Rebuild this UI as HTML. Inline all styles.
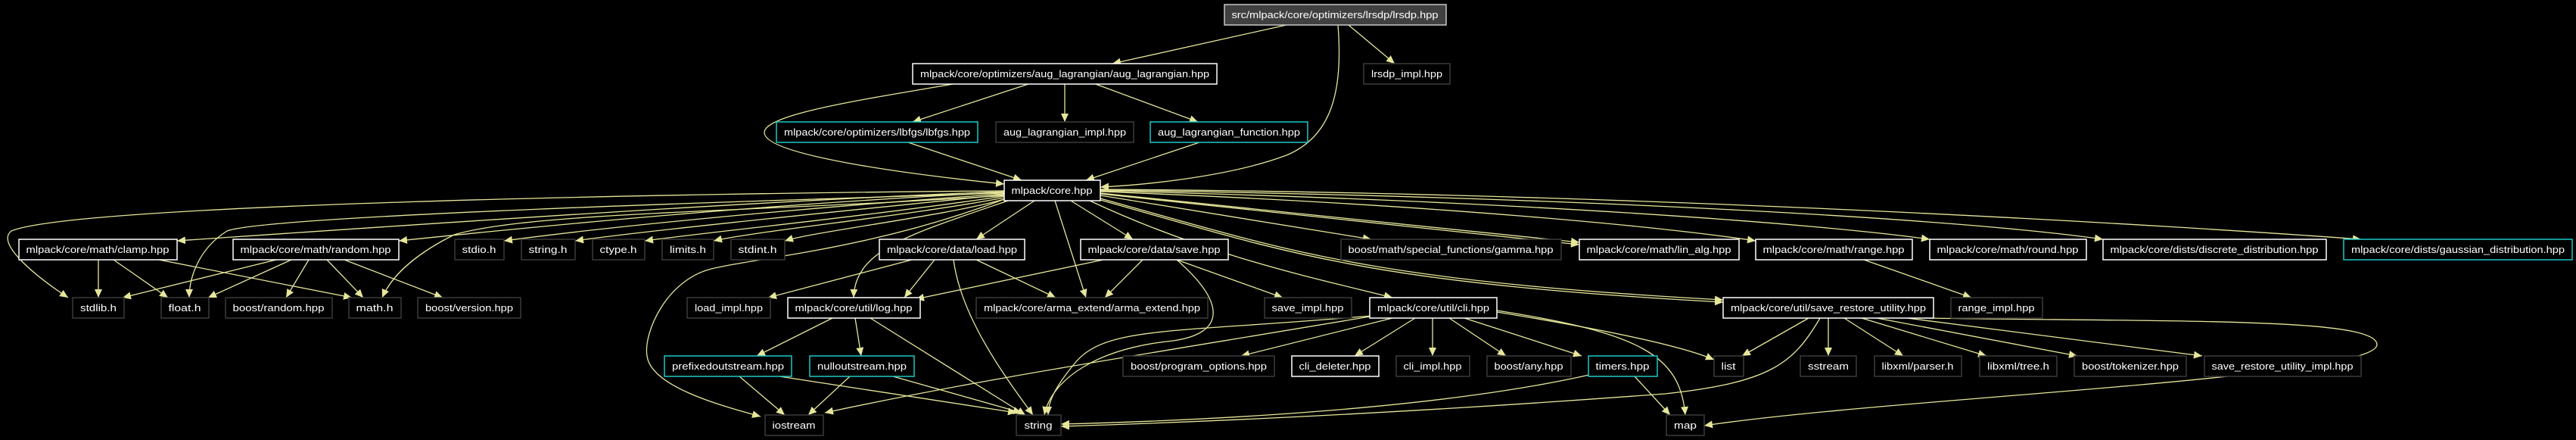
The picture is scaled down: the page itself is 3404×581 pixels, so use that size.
<!DOCTYPE html>
<html><head><meta charset="utf-8"><style>
html,body{margin:0;padding:0;background:#000;}
svg{display:block}
text{font-family:"Liberation Sans",sans-serif;font-size:13px;fill:#fff;text-anchor:middle}
.e{fill:none;stroke:#e6e69a;stroke-width:1.3}
.w{fill:#000;stroke:#fff;stroke-width:1.5}
.g{fill:#000;stroke:#3a3a3a;stroke-width:1.5}
.c{fill:#000;stroke:#1cc8c8;stroke-width:1.5}
.t{fill:#404040;stroke:#c8c8c8;stroke-width:1.5}
</style></head><body>
<svg width="3404" height="581" viewBox="0 0 3404 581" xmlns="http://www.w3.org/2000/svg">
<defs><marker id="a" markerUnits="userSpaceOnUse" markerWidth="12" markerHeight="10" refX="11" refY="5" orient="auto"><path d="M0,0 L11,5 L0,10 z" fill="#e6e69a"/></marker></defs>
<g class="edges" marker-end="url(#a)">
<path class="e" marker-end="url(#a)" d="M1700,33 L1470,84"/>
<path class="e" marker-end="url(#a)" d="M1782,33 L1843,84"/>
<path class="e" marker-end="url(#a)" d="M1768,33 C1775,120 1760,180 1700,205 C1620,235 1500,245 1454,247"/>
<path class="e" marker-end="url(#a)" d="M1265,110 C1150,130 1010,150 1010,175 C1010,205 1200,230 1327,243"/>
<path class="e" marker-end="url(#a)" d="M1362,110 L1206,161"/>
<path class="e" marker-end="url(#a)" d="M1407,110 L1407,161"/>
<path class="e" marker-end="url(#a)" d="M1445,110 L1583,161"/>
<path class="e" marker-end="url(#a)" d="M1200,188 L1350,238"/>
<path class="e" marker-end="url(#a)" d="M1585,188 L1435,238"/>
<path class="e" marker-end="url(#a)" d="M1327,253 C1000,265 500,300 234,318"/>
<path class="e" marker-end="url(#a)" d="M1327,254 C1000,270 700,300 527,318"/>
<path class="e" marker-end="url(#a)" d="M1327,256 C1050,275 800,300 666,318"/>
<path class="e" marker-end="url(#a)" d="M1327,257 C1100,280 850,305 760,318"/>
<path class="e" marker-end="url(#a)" d="M1327,259 C1150,285 950,305 852,318"/>
<path class="e" marker-end="url(#a)" d="M1327,261 C1200,285 1000,305 943,318"/>
<path class="e" marker-end="url(#a)" d="M1327,263 C1250,285 1080,305 1037,318"/>
<path class="e" marker-end="url(#a)" d="M1327,252 C900,255 100,270 15,305 C-5,320 40,360 90,393"/>
<path class="e" marker-end="url(#a)" d="M1327,255 C1000,265 350,285 300,305 C260,330 250,370 250,393"/>
<path class="e" marker-end="url(#a)" d="M1330,258 C1000,280 700,280 600,310 C540,340 515,370 505,393"/>
<path class="e" marker-end="url(#a)" d="M1367,265 L1290,316"/>
<path class="e" marker-end="url(#a)" d="M1394,265 L1435,393"/>
<path class="e" marker-end="url(#a)" d="M1415,265 L1497,316"/>
<path class="e" marker-end="url(#a)" d="M1335,264 C1200,310 1130,330 1128,393"/>
<path class="e" marker-end="url(#a)" d="M1330,262 C1150,330 1000,340 940,355 C880,370 850,440 855,470 C860,510 950,535 1005,550"/>
<path class="e" marker-end="url(#a)" d="M1454,258 L1812,316"/>
<path class="e" marker-end="url(#a)" d="M1454,255 C1800,290 2000,310 2087,320"/>
<path class="e" marker-end="url(#a)" d="M1454,256 C1800,292 2000,313 2087,323"/>
<path class="e" marker-end="url(#a)" d="M1454,253 C1900,270 2200,300 2320,318"/>
<path class="e" marker-end="url(#a)" d="M1454,252 C2000,265 2400,295 2550,316"/>
<path class="e" marker-end="url(#a)" d="M1454,251 C2100,260 2600,290 2779,316"/>
<path class="e" marker-end="url(#a)" d="M1454,250 C2200,255 2900,300 3120,316"/>
<path class="e" marker-end="url(#a)" d="M1440,265 C1600,340 1750,370 1840,393"/>
<path class="e" marker-end="url(#a)" d="M1454,262 C1700,330 1800,370 2277,396"/>
<path class="e" marker-end="url(#a)" d="M1454,264 C1700,333 1800,373 2277,399"/>
<path class="e" marker-end="url(#a)" d="M130,343 L130,393"/>
<path class="e" marker-end="url(#a)" d="M150,343 L222,393"/>
<path class="e" marker-end="url(#a)" d="M210,343 L465,393"/>
<path class="e" marker-end="url(#a)" d="M365,343 L162,393"/>
<path class="e" marker-end="url(#a)" d="M385,343 L275,393"/>
<path class="e" marker-end="url(#a)" d="M408,343 L378,393"/>
<path class="e" marker-end="url(#a)" d="M432,343 L480,393"/>
<path class="e" marker-end="url(#a)" d="M455,343 L585,393"/>
<path class="e" marker-end="url(#a)" d="M1205,343 L1015,393"/>
<path class="e" marker-end="url(#a)" d="M1235,343 L1195,393"/>
<path class="e" marker-end="url(#a)" d="M1290,343 L1395,393"/>
<path class="e" marker-end="url(#a)" d="M1260,343 C1270,420 1330,500 1365,548"/>
<path class="e" marker-end="url(#a)" d="M1458,343 L1210,395"/>
<path class="e" marker-end="url(#a)" d="M1510,343 L1460,393"/>
<path class="e" marker-end="url(#a)" d="M1555,343 L1695,393"/>
<path class="e" marker-end="url(#a)" d="M1555,343 C1620,400 1620,440 1550,450 C1450,460 1390,500 1380,548"/>
<path class="e" marker-end="url(#a)" d="M1100,420 L1000,470"/>
<path class="e" marker-end="url(#a)" d="M1130,420 L1138,470"/>
<path class="e" marker-end="url(#a)" d="M1150,420 L1355,548"/>
<path class="e" marker-end="url(#a)" d="M977,497 L1037,548"/>
<path class="e" marker-end="url(#a)" d="M1030,497 L1343,545"/>
<path class="e" marker-end="url(#a)" d="M1123,497 L1068,548"/>
<path class="e" marker-end="url(#a)" d="M1180,497 L1350,545"/>
<path class="e" marker-end="url(#a)" d="M1812,417 C1550,440 1460,430 1420,480 C1395,510 1385,530 1385,548"/>
<path class="e" marker-end="url(#a)" d="M1810,418 C1500,470 1300,500 1090,545"/>
<path class="e" marker-end="url(#a)" d="M1840,420 L1640,470"/>
<path class="e" marker-end="url(#a)" d="M1870,420 L1790,470"/>
<path class="e" marker-end="url(#a)" d="M1893,420 L1893,470"/>
<path class="e" marker-end="url(#a)" d="M1915,420 L1990,470"/>
<path class="e" marker-end="url(#a)" d="M1935,420 L2090,470"/>
<path class="e" marker-end="url(#a)" d="M1978,412 C2150,440 2230,460 2265,475"/>
<path class="e" marker-end="url(#a)" d="M1978,410 C2170,440 2220,470 2227,548"/>
<path class="e" marker-end="url(#a)" d="M2100,495 C1900,540 1600,555 1402,560"/>
<path class="e" marker-end="url(#a)" d="M2160,497 L2207,548"/>
<path class="e" marker-end="url(#a)" d="M2390,420 L2302,470"/>
<path class="e" marker-end="url(#a)" d="M2405,420 C2370,480 2340,505 2200,520 C1800,550 1500,560 1402,563"/>
<path class="e" marker-end="url(#a)" d="M2416,420 L2416,470"/>
<path class="e" marker-end="url(#a)" d="M2437,420 L2515,470"/>
<path class="e" marker-end="url(#a)" d="M2460,420 L2625,470"/>
<path class="e" marker-end="url(#a)" d="M2480,420 L2745,470"/>
<path class="e" marker-end="url(#a)" d="M2520,420 L2910,470"/>
<path class="e" marker-end="url(#a)" d="M2540,420 C2900,425 3140,420 3141,455 C3141,500 2500,525 2252,562"/>
<path class="e" marker-end="url(#a)" d="M2463,343 L2605,393"/>
</g>
<g>
<rect class="t" x="1618" y="6" width="293" height="27"/><text x="1764" y="24" textLength="273" lengthAdjust="spacingAndGlyphs">src/mlpack/core/optimizers/lrsdp/lrsdp.hpp</text>
<rect class="w" x="1206" y="84" width="402" height="27"/><text x="1407" y="102" textLength="382" lengthAdjust="spacingAndGlyphs">mlpack/core/optimizers/aug_lagrangian/aug_lagrangian.hpp</text>
<rect class="g" x="1802" y="84" width="114" height="27"/><text x="1859" y="102" textLength="94" lengthAdjust="spacingAndGlyphs">lrsdp_impl.hpp</text>
<rect class="c" x="1026" y="161" width="266" height="27"/><text x="1159" y="179" textLength="246" lengthAdjust="spacingAndGlyphs">mlpack/core/optimizers/lbfgs/lbfgs.hpp</text>
<rect class="g" x="1316" y="161" width="182" height="27"/><text x="1407" y="179" textLength="162" lengthAdjust="spacingAndGlyphs">aug_lagrangian_impl.hpp</text>
<rect class="c" x="1520" y="161" width="208" height="27"/><text x="1624" y="179" textLength="188" lengthAdjust="spacingAndGlyphs">aug_lagrangian_function.hpp</text>
<rect class="w" x="1327" y="238" width="127" height="27"/><text x="1390" y="256" textLength="107" lengthAdjust="spacingAndGlyphs">mlpack/core.hpp</text>

<rect class="w" x="25" y="316" width="209" height="27"/><text x="129" y="334" textLength="189" lengthAdjust="spacingAndGlyphs">mlpack/core/math/clamp.hpp</text>
<rect class="w" x="308" y="316" width="219" height="27"/><text x="417" y="334" textLength="199" lengthAdjust="spacingAndGlyphs">mlpack/core/math/random.hpp</text>
<rect class="g" x="601" y="316" width="65" height="27"/><text x="633" y="334" textLength="45" lengthAdjust="spacingAndGlyphs">stdio.h</text>
<rect class="g" x="689" y="316" width="71" height="27"/><text x="724" y="334" textLength="51" lengthAdjust="spacingAndGlyphs">string.h</text>
<rect class="g" x="783" y="316" width="69" height="27"/><text x="817" y="334" textLength="49" lengthAdjust="spacingAndGlyphs">ctype.h</text>
<rect class="g" x="875" y="316" width="68" height="27"/><text x="909" y="334" textLength="48" lengthAdjust="spacingAndGlyphs">limits.h</text>
<rect class="g" x="966" y="316" width="71" height="27"/><text x="1001" y="334" textLength="51" lengthAdjust="spacingAndGlyphs">stdint.h</text>
<rect class="w" x="1162" y="316" width="192" height="27"/><text x="1258" y="334" textLength="172" lengthAdjust="spacingAndGlyphs">mlpack/core/data/load.hpp</text>
<rect class="w" x="1428" y="316" width="195" height="27"/><text x="1525" y="334" textLength="175" lengthAdjust="spacingAndGlyphs">mlpack/core/data/save.hpp</text>
<rect class="g" x="1772" y="316" width="291" height="27"/><text x="1917" y="334" textLength="271" lengthAdjust="spacingAndGlyphs">boost/math/special_functions/gamma.hpp</text>
<rect class="w" x="2087" y="316" width="211" height="27"/><text x="2192" y="334" textLength="191" lengthAdjust="spacingAndGlyphs">mlpack/core/math/lin_alg.hpp</text>
<rect class="w" x="2320" y="316" width="207" height="27"/><text x="2423" y="334" textLength="187" lengthAdjust="spacingAndGlyphs">mlpack/core/math/range.hpp</text>
<rect class="w" x="2550" y="316" width="207" height="27"/><text x="2653" y="334" textLength="187" lengthAdjust="spacingAndGlyphs">mlpack/core/math/round.hpp</text>
<rect class="w" x="2779" y="316" width="295" height="27"/><text x="2926" y="334" textLength="275" lengthAdjust="spacingAndGlyphs">mlpack/core/dists/discrete_distribution.hpp</text>
<rect class="c" x="3097" y="316" width="302" height="27"/><text x="3248" y="334" textLength="282" lengthAdjust="spacingAndGlyphs">mlpack/core/dists/gaussian_distribution.hpp</text>

<rect class="g" x="96" y="393" width="68" height="27"/><text x="130" y="411" textLength="48" lengthAdjust="spacingAndGlyphs">stdlib.h</text>
<rect class="g" x="213" y="393" width="63" height="27"/><text x="244" y="411" textLength="43" lengthAdjust="spacingAndGlyphs">float.h</text>
<rect class="g" x="298" y="393" width="141" height="27"/><text x="368" y="411" textLength="121" lengthAdjust="spacingAndGlyphs">boost/random.hpp</text>
<rect class="g" x="461" y="393" width="69" height="27"/><text x="495" y="411" textLength="49" lengthAdjust="spacingAndGlyphs">math.h</text>
<rect class="g" x="552" y="393" width="136" height="27"/><text x="620" y="411" textLength="116" lengthAdjust="spacingAndGlyphs">boost/version.hpp</text>
<rect class="g" x="908" y="393" width="110" height="27"/><text x="963" y="411" textLength="90" lengthAdjust="spacingAndGlyphs">load_impl.hpp</text>
<rect class="w" x="1041" y="393" width="175" height="27"/><text x="1128" y="411" textLength="155" lengthAdjust="spacingAndGlyphs">mlpack/core/util/log.hpp</text>
<rect class="g" x="1290" y="393" width="306" height="27"/><text x="1443" y="411" textLength="286" lengthAdjust="spacingAndGlyphs">mlpack/core/arma_extend/arma_extend.hpp</text>
<rect class="g" x="1671" y="393" width="115" height="27"/><text x="1728" y="411" textLength="95" lengthAdjust="spacingAndGlyphs">save_impl.hpp</text>
<rect class="w" x="1810" y="393" width="168" height="27"/><text x="1894" y="411" textLength="148" lengthAdjust="spacingAndGlyphs">mlpack/core/util/cli.hpp</text>
<rect class="w" x="2277" y="393" width="278" height="27"/><text x="2416" y="411" textLength="258" lengthAdjust="spacingAndGlyphs">mlpack/core/util/save_restore_utility.hpp</text>
<rect class="g" x="2578" y="393" width="121" height="27"/><text x="2638" y="411" textLength="101" lengthAdjust="spacingAndGlyphs">range_impl.hpp</text>

<rect class="c" x="878" y="470" width="168" height="27"/><text x="962" y="488" textLength="148" lengthAdjust="spacingAndGlyphs">prefixedoutstream.hpp</text>
<rect class="c" x="1070" y="470" width="138" height="27"/><text x="1139" y="488" textLength="118" lengthAdjust="spacingAndGlyphs">nulloutstream.hpp</text>
<rect class="g" x="1484" y="470" width="200" height="27"/><text x="1584" y="488" textLength="180" lengthAdjust="spacingAndGlyphs">boost/program_options.hpp</text>
<rect class="w" x="1707" y="470" width="115" height="27"/><text x="1764" y="488" textLength="95" lengthAdjust="spacingAndGlyphs">cli_deleter.hpp</text>
<rect class="g" x="1845" y="470" width="97" height="27"/><text x="1893" y="488" textLength="77" lengthAdjust="spacingAndGlyphs">cli_impl.hpp</text>
<rect class="g" x="1965" y="470" width="111" height="27"/><text x="2020" y="488" textLength="91" lengthAdjust="spacingAndGlyphs">boost/any.hpp</text>
<rect class="c" x="2099" y="470" width="91" height="27"/><text x="2144" y="488" textLength="71" lengthAdjust="spacingAndGlyphs">timers.hpp</text>
<rect class="g" x="2265" y="470" width="39" height="27"/><text x="2284" y="488" textLength="19" lengthAdjust="spacingAndGlyphs">list</text>
<rect class="g" x="2379" y="470" width="74" height="27"/><text x="2416" y="488" textLength="54" lengthAdjust="spacingAndGlyphs">sstream</text>
<rect class="g" x="2477" y="470" width="115" height="27"/><text x="2534" y="488" textLength="95" lengthAdjust="spacingAndGlyphs">libxml/parser.h</text>
<rect class="g" x="2616" y="470" width="102" height="27"/><text x="2667" y="488" textLength="82" lengthAdjust="spacingAndGlyphs">libxml/tree.h</text>
<rect class="g" x="2741" y="470" width="148" height="27"/><text x="2815" y="488" textLength="128" lengthAdjust="spacingAndGlyphs">boost/tokenizer.hpp</text>
<rect class="g" x="2913" y="470" width="207" height="27"/><text x="3016" y="488" textLength="187" lengthAdjust="spacingAndGlyphs">save_restore_utility_impl.hpp</text>

<rect class="g" x="1011" y="548" width="77" height="27"/><text x="1049" y="566" textLength="57" lengthAdjust="spacingAndGlyphs">iostream</text>
<rect class="g" x="1343" y="548" width="59" height="27"/><text x="1372" y="566" textLength="37" lengthAdjust="spacingAndGlyphs">string</text>
<rect class="g" x="2202" y="548" width="50" height="27"/><text x="2227" y="566" textLength="30" lengthAdjust="spacingAndGlyphs">map</text>
</g>
</svg>
</body></html>
